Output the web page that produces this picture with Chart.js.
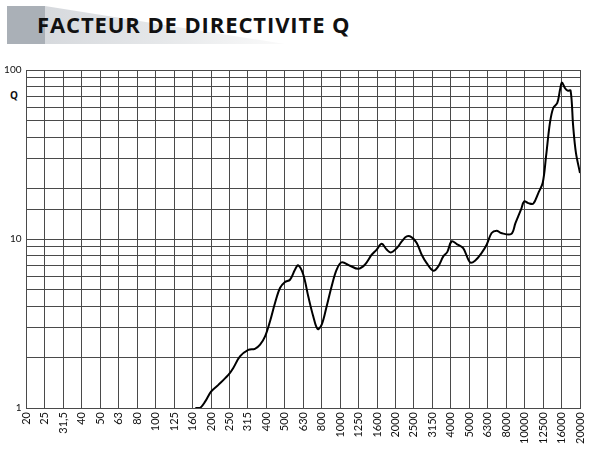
<!DOCTYPE html>
<html>
<head>
<meta charset="utf-8">
<script src="https://cdn.jsdelivr.net/npm/chart.js@4/dist/chart.umd.min.js"></script>
<style>
  html, body { margin:0; padding:0; background:#fff; }
  #wrap { position:relative; width:592px; height:450px; overflow:hidden; }
  #c { position:absolute; left:0; top:0; }
  .blk { position:absolute; left:7px; top:6px; width:38px; height:38px; background:#aab0b7; }
  .wedge { position:absolute; left:45px; top:6px; width:240px; height:38px;
           background:linear-gradient(90deg,#d6d9dd 0%,#e6e8ea 50%,#fafafa 100%);
           clip-path:polygon(0 0, 0 100%, 100% 100%); }
  .title { position:absolute; left:37px; top:9px; font-family:"Open Sans",sans-serif;
           font-weight:700; font-size:22px; color:#111; letter-spacing:0.9px; white-space:nowrap; }
  .q { position:absolute; left:10px; top:88px; font-family:"Open Sans",sans-serif;
       font-weight:700; font-size:10px; color:#111; }
</style>
</head>
<body>
<div id="wrap">
  <div class="blk"></div>
  <div class="wedge"></div>
  <div class="title">FACTEUR DE DIRECTIVITE Q</div>
  <div class="q">Q</div>
  <canvas id="c" width="592" height="450"></canvas>
</div>
<script>
// Third-octave band labels (category positions 0..30)
const freqLabels = ["20","25","31,5","40","50","63","80","100","125","160","200","250","315","400","500","630","800","1000","1250","1600","2000","2500","3150","4000","5000","6300","8000","10000","12500","16000","20000"];
// Curve position measured in band steps (0 = 20 Hz, 30 = 20000 Hz)
const curvePos = [9.15, 9.4, 9.68, 10.0, 10.4, 10.94, 11.2, 11.57, 12.02, 12.38, 12.66, 12.93, 13.2, 13.47, 13.74, 14.01, 14.28, 14.55, 14.73, 15.0, 15.27, 15.54, 15.78, 16.0, 16.27, 16.54, 16.81, 17.08, 17.53, 17.98, 18.35, 18.71, 18.98, 19.25, 19.52, 19.74, 20.07, 20.34, 20.61, 20.88, 21.15, 21.42, 21.69, 22.05, 22.32, 22.59, 22.81, 23.04, 23.32, 23.67, 24.04, 24.31, 24.67, 24.94, 25.21, 25.48, 25.72, 26.27, 26.5, 26.8, 26.98, 27.2, 27.47, 27.74, 27.98, 28.16, 28.37, 28.55, 28.77, 28.92, 29.02, 29.19, 29.33, 29.49, 29.63, 29.78, 30.0];
// Directivity factor Q
const qValues = [1.0, 1.0, 1.09, 1.25, 1.37, 1.57, 1.72, 2.02, 2.21, 2.24, 2.37, 2.65, 3.26, 4.18, 5.13, 5.57, 5.74, 6.58, 6.98, 6.16, 4.58, 3.49, 2.93, 3.11, 4.0, 5.25, 6.58, 7.27, 6.95, 6.67, 7.07, 8.07, 8.66, 9.38, 8.66, 8.32, 8.83, 9.68, 10.36, 10.23, 9.48, 8.07, 7.2, 6.49, 6.89, 7.89, 8.39, 9.68, 9.34, 8.83, 7.27, 7.44, 8.28, 9.25, 10.85, 11.2, 10.85, 10.7, 12.4, 14.9, 16.7, 16.3, 16.2, 18.7, 21.5, 30.8, 48.6, 59.6, 63.9, 76.6, 84.3, 78, 75.5, 75.5, 46.5, 32.3, 24.6];
const yLabelValues = [1, 10, 100];

const points = curvePos.map((x, i) => ({x: x, y: qValues[i]}));
const gridCol = '#4a4a4a';
const tickFont = {family: 'Lato, "Open Sans", sans-serif', size: 11};

new Chart(document.getElementById('c'), {
  type: 'line',
  data: { datasets: [{
    data: points, borderColor: '#000', borderWidth: 2, pointRadius: 0,
    tension: 0.35, fill: false
  }]},
  options: {
    responsive: false, animation: false,
    layout: { padding: { left: 0, top: 70, right: 12, bottom: 0 } },
    plugins: { legend: {display:false}, tooltip: {enabled:false} },
    scales: {
      x: {
        type: 'linear', min: 0, max: 30,
        afterBuildTicks: (s) => { s.ticks = freqLabels.map((_, i) => ({value: i})); },
        afterFit: (s) => { s.height = 42; s.paddingLeft = 0; s.paddingRight = 0; },
        ticks: { autoSkip: false, maxRotation: 90, minRotation: 90, padding: 4,
                 color: '#111', font: tickFont,
                 callback: (v) => freqLabels[v] },
        grid: { color: gridCol, lineWidth: 1, drawTicks: false },
        border: { color: gridCol, width: 1 }
      },
      y: {
        type: 'logarithmic', min: 1, max: 100,
        afterFit: (s) => { s.width = 26.5; s.paddingTop = 0; s.paddingBottom = 0; },
        ticks: { autoSkip: false, padding: 5, color: '#111',
                 font: {family: 'Lato, "Open Sans", sans-serif', size: 10},
                 callback: (v) => yLabelValues.includes(v) ? String(v) : '' },
        grid: { color: gridCol, lineWidth: 1, drawTicks: false },
        border: { color: gridCol, width: 1 }
      }
    }
  }
});
</script>
</body>
</html>
